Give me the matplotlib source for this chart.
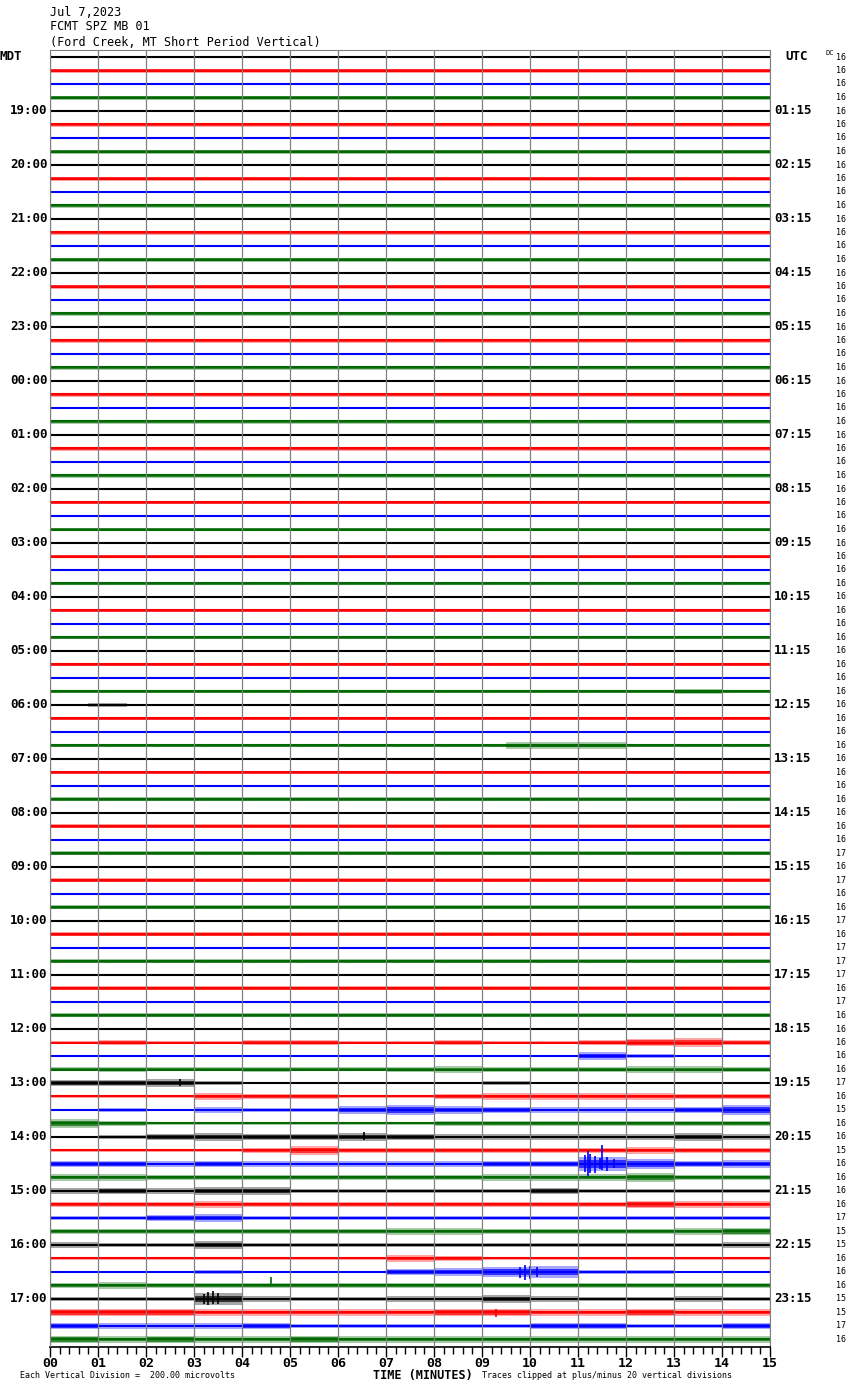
import numpy as np
import matplotlib.pyplot as plt
import matplotlib.transforms as mtransforms

# --- data ---
# 96 traces of 15 minutes each, 18:00 MDT (00:15 UTC) to 17:45 MDT
trace_colors = ['#000000', '#ff0000', '#0000ff', '#006a00']
mdt_labels = ['19:00', '20:00', '21:00', '22:00', '23:00', '00:00', '01:00', '02:00',
              '03:00', '04:00', '05:00', '06:00', '07:00', '08:00', '09:00', '10:00',
              '11:00', '12:00', '13:00', '14:00', '15:00', '16:00', '17:00']
utc_labels = ['01:15', '02:15', '03:15', '04:15', '05:15', '06:15', '07:15', '08:15',
              '09:15', '10:15', '11:15', '12:15', '13:15', '14:15', '15:15', '16:15',
              '17:15', '18:15', '19:15', '20:15', '21:15', '22:15', '23:15']
dc_values = [16] * 59 + [17, 16, 17, 16, 16, 17, 16, 17, 17, 17, 16, 17, 16,
                         16, 16, 16, 16, 17, 16, 15, 16, 16, 15, 16, 16,
                         16, 16, 17, 15, 15, 16, 16, 16, 15, 15, 17, 16]

# half-amplitude of the noise band (pixels) for the quiet night traces, per colour
quiet_amp = [1.0, 2.0, 1.0, 2.0]
# (trace, start minute, end minute, half-amplitude px) of small bursts in quiet part
quiet_bursts = [(48, 0.8, 1.6, 2.4), (51, 9.5, 12.0, 3.6), (47, 13.0, 14.0, 2.4)]

# per-minute half-amplitude (px) of traces 72..95 (12:00 - 17:45 MDT)
afternoon_amp = [
    [1, 1, 1, 1, 1, 1, 1, 1, 1, 1, 1, 1, 1, 1, 1],
    [1.8, 2.6, 1.8, 1.8, 2.2, 2.2, 1.8, 1.8, 2.2, 1.8, 1.8, 2.2, 4.0, 4.6, 2.2],
    [1, 1, 1, 1, 1, 1, 1, 1, 1, 1, 1, 4.0, 1.8, 1, 1],
    [2.0, 2.2, 2.0, 2.0, 2.2, 2.0, 2.0, 2.2, 3.4, 2.6, 2.2, 2.2, 3.4, 3.4, 2.2],
    [3.0, 3.4, 3.8, 1.8, 1, 1, 1, 1, 1, 2.2, 1, 1, 1, 1, 1],
    [1.8, 1.8, 1.8, 3.4, 2.2, 2.2, 1.8, 1.8, 2.2, 3.0, 3.0, 3.4, 3.0, 2.2, 2.2],
    [1.4, 2.2, 1.4, 2.6, 2.2, 1.8, 4.2, 5.0, 3.8, 3.0, 2.6, 2.6, 2.6, 3.0, 5.0],
    [4.2, 2.6, 1.8, 1.8, 1.8, 1.8, 1.8, 1.8, 2.2, 2.2, 2.2, 2.2, 2.2, 2.2, 2.6],
    [1.0, 1.8, 3.4, 3.8, 3.4, 3.0, 3.8, 3.0, 2.6, 2.6, 2.6, 2.6, 2.6, 4.2, 2.6],
    [1.8, 1.8, 1.8, 1.8, 2.2, 4.6, 2.6, 2.2, 2.2, 2.2, 2.6, 2.6, 3.0, 2.6, 2.6],
    [3.0, 3.0, 2.6, 3.0, 2.6, 2.6, 2.6, 2.6, 2.6, 3.4, 3.4, 7.0, 5.0, 3.4, 3.8],
    [3.0, 3.0, 2.6, 2.6, 2.6, 2.6, 2.6, 2.6, 2.6, 3.0, 3.0, 3.0, 4.2, 2.6, 2.6],
    [2.6, 3.4, 2.6, 4.2, 4.2, 2.2, 2.2, 2.2, 2.2, 2.2, 3.4, 2.2, 2.2, 2.2, 2.2],
    [2.2, 2.2, 2.2, 3.0, 2.2, 2.2, 2.2, 2.2, 2.2, 2.6, 2.6, 2.6, 3.8, 3.0, 3.4],
    [2.2, 2.2, 3.0, 3.8, 1.8, 1.8, 1.8, 1.8, 1.8, 1.8, 1.8, 1.8, 2.2, 1.8, 1.8],
    [2.6, 2.6, 2.6, 2.6, 2.6, 2.6, 2.6, 3.4, 3.4, 2.6, 2.6, 2.6, 2.6, 3.0, 3.8],
    [2.6, 2.2, 2.2, 3.8, 2.2, 2.2, 2.2, 2.2, 2.2, 2.2, 2.2, 2.2, 2.2, 2.2, 2.6],
    [1.8, 1.8, 1.8, 1.8, 1.8, 1.8, 1.8, 3.4, 2.2, 1.8, 1.8, 1.8, 1.8, 1.8, 1.8],
    [1.0, 1.0, 1.0, 2.2, 1.4, 1.4, 1.4, 3.0, 3.8, 5.0, 6.2, 1.8, 1.8, 1.4, 1.4],
    [2.6, 3.4, 2.6, 2.6, 2.6, 2.6, 2.6, 2.6, 2.6, 2.6, 2.6, 2.6, 2.6, 2.6, 2.6],
    [1.8, 1.8, 2.2, 6.2, 2.6, 1.8, 1.8, 2.6, 2.6, 3.8, 2.6, 1.8, 1.8, 2.6, 2.2],
    [3.8, 3.8, 3.8, 3.4, 3.4, 3.4, 3.4, 3.0, 3.8, 3.8, 3.4, 3.0, 3.8, 3.4, 3.0],
    [3.0, 2.6, 2.6, 2.6, 3.0, 2.2, 2.2, 2.2, 2.2, 2.2, 3.0, 3.0, 2.2, 2.2, 3.0],
    [3.8, 3.4, 3.8, 3.0, 3.0, 3.8, 3.0, 3.4, 3.0, 3.4, 3.0, 3.0, 3.0, 3.4, 3.0],
]

# larger spikes: trace, minute, up (px), down (px)
spike_trace = [82, 82, 82, 82, 82, 82, 82, 82, 92, 92, 92, 92, 90, 90, 90, 90, 91, 80, 76, 93]
spike_min = [11.15, 11.2, 11.25, 11.35, 11.45, 11.5, 11.6, 11.75,
             3.2, 3.3, 3.4, 3.5, 9.8, 9.9, 10.0, 10.15, 4.6, 6.55, 2.7, 9.3]
spike_up = [9, 13, 10, 8, 6, 19, 7, 5, 5, 7, 8, 6, 5, 7, 6, 5, 8, 5, 4, 4]
spike_down = [8, 12, 9, 9, 5, 6, 7, 4, 5, 6, 5, 5, 6, 8, 7, 5, 0, 3, 3, 5]

PX = 13.5  # pixels between traces

fig = plt.figure(figsize=(8.5, 13.9), dpi=100)
ax = fig.add_axes([50 / 850, 1 - 1347 / 1390, 720 / 850, 1297 / 1390])
ax.set_xlim(0, 15)
ax.set_ylim(95 + 7.5 / PX, -7 / PX)

edges = np.arange(16)
for i in range(96):
    c = trace_colors[i % 4]
    if i >= 72:
        amps = np.array(afternoon_amp[i - 72], dtype=float)
    else:
        amps = np.full(15, quiet_amp[i % 4])
    a = np.append(amps, amps[-1]) / PX
    ax.fill_between(edges, i - a, i + a, step='post', color=c, alpha=0.35, lw=0)
    ax.fill_between(edges, i - 0.55 * a, i + 0.55 * a, step='post', color=c,
                    alpha=0.7, lw=0)
    ax.plot([0, 15], [i, i], color=c, lw=1.5, solid_capstyle='butt')

for tr, m0, m1, a in quiet_bursts:
    c = trace_colors[tr % 4]
    ax.fill_between([m0, m1], tr - a / PX, tr + a / PX, color=c, alpha=0.35, lw=0)
    ax.fill_between([m0, m1], tr - 0.55 * a / PX, tr + 0.55 * a / PX, color=c,
                    alpha=0.7, lw=0)

for tr, m, up, dn in zip(spike_trace, spike_min, spike_up, spike_down):
    ax.vlines(m, tr - up / PX, tr + dn / PX, color=trace_colors[tr % 4], lw=1.2)

mono = 'DejaVu Sans Mono'
ax.set_xticks(range(16))
ax.set_xticklabels([f'{m:02d}' for m in range(16)], family=mono,
                   fontweight='bold', fontsize=9.5)
ax.set_xticks(np.arange(0, 15.01, 0.2), minor=True)
ax.tick_params(axis='x', which='major', length=7, width=1, pad=0.5)
ax.tick_params(axis='x', which='minor', length=5, width=1)
ax.set_yticks([])
ax.set_axisbelow(False)
ax.grid(axis='x', which='major', color='#808080', lw=0.9)
for s in ['left', 'right', 'top']:
    ax.spines[s].set_color('#808080')
ax.spines['bottom'].set_linewidth(1.2)

blend = mtransforms.blended_transform_factory(ax.transAxes, ax.transData)
for k in range(23):
    row = 4 * (k + 1)
    ax.text(-0.003, row, mdt_labels[k], transform=blend, ha='right', va='center',
            family=mono, fontweight='bold', fontsize=9)
    ax.text(1.006, row, utc_labels[k], transform=blend, ha='left', va='center',
            family=mono, fontweight='bold', fontsize=9)
ax.text(-50 / 720, 0, 'MDT', transform=blend, ha='left', va='center',
        family=mono, fontweight='bold', fontsize=9)
ax.text(1 + 15 / 720, 0, 'UTC', transform=blend, ha='left', va='center',
        family=mono, fontweight='bold', fontsize=9)
for i, v in enumerate(dc_values):
    ax.text(796 / 720, i, str(v), transform=blend, ha='right', va='center',
            family=mono, fontsize=6)
ax.text(776 / 720, -0.3, 'DC', transform=blend, ha='left', va='center',
        family=mono, fontsize=5)

fig.text(50 / 850, 1 - 12 / 1390, 'Jul 7,2023', family=mono, fontsize=8.5, va='center')
fig.text(50 / 850, 1 - 27 / 1390, 'FCMT SPZ MB 01', family=mono, fontsize=8.5, va='center')
fig.text(50 / 850, 1 - 42 / 1390, '(Ford Creek, MT Short Period Vertical)', family=mono,
         fontsize=8.5, va='center')
fig.text(20 / 850, 1 - 1376 / 1390, 'Each Vertical Division =  200.00 microvolts',
         family=mono, fontsize=6, va='center')
fig.text(373 / 850, 1 - 1375 / 1390, 'TIME (MINUTES)', family=mono, fontweight='bold',
         fontsize=8.5, va='center')
fig.text(482 / 850, 1 - 1376 / 1390, 'Traces clipped at plus/minus 20 vertical divisions',
         family=mono, fontsize=6, va='center')

fig.savefig('out.png', dpi=100)
